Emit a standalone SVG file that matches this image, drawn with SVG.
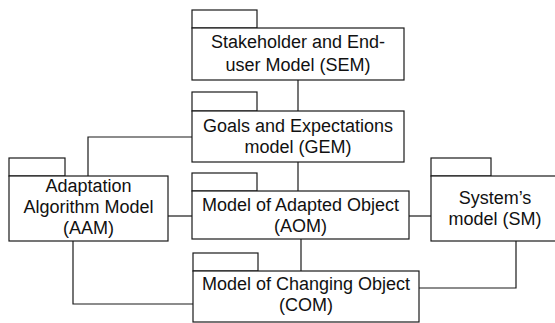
<svg xmlns="http://www.w3.org/2000/svg" width="555" height="323" viewBox="0 0 555 323">
<style>
.b{fill:#fff;stroke:#1a1a1a;stroke-width:1.2}
.c{fill:none;stroke:#1a1a1a;stroke-width:1.2}
text{font-family:"Liberation Sans",Arial,sans-serif;font-size:18px;fill:#111;text-anchor:middle}
</style>
<rect width="555" height="323" fill="#fff"/>
<g id="connectors">
<line class="c" x1="298" y1="80" x2="298" y2="111"/>
<polyline class="c" points="192,137 88,137 88,176"/>
<line class="c" x1="298" y1="162" x2="298" y2="191"/>
<line class="c" x1="168" y1="216" x2="192" y2="216"/>
<line class="c" x1="409" y1="216" x2="431" y2="216"/>
<line class="c" x1="301" y1="239" x2="301" y2="271"/>
<polyline class="c" points="73,241 73,304 193,304"/>
<polyline class="c" points="516,241 516,288 419,288"/>
</g>
<g id="SEM">
<rect class="b" x="192" y="10" width="65" height="18"/>
<rect class="b" x="192" y="28" width="212" height="52"/>
<text x="298" y="48">Stakeholder and End-</text>
<text x="298" y="71">user Model (SEM)</text>
</g>
<g id="GEM">
<rect class="b" x="192" y="92" width="65" height="19"/>
<rect class="b" x="192" y="111" width="212" height="51"/>
<text x="298" y="132">Goals and Expectations</text>
<text x="298" y="153">model (GEM)</text>
</g>
<g id="AAM">
<rect class="b" x="9" y="158" width="56" height="18"/>
<rect class="b" x="9" y="176" width="159" height="65"/>
<text x="88.5" y="192">Adaptation</text>
<text x="88.5" y="213">Algorithm Model</text>
<text x="88.5" y="234">(AAM)</text>
</g>
<g id="AOM">
<rect class="b" x="192" y="173" width="65" height="18"/>
<rect class="b" x="192" y="191" width="217" height="48"/>
<text x="300.5" y="211">Model of Adapted Object</text>
<text x="300.5" y="232">(AOM)</text>
</g>
<g id="COM">
<rect class="b" x="193" y="253" width="65" height="18"/>
<rect class="b" x="193" y="271" width="226" height="51"/>
<text x="306" y="290">Model of Changing Object</text>
<text x="306" y="311">(COM)</text>
</g>
<g id="SM">
<rect class="b" x="431" y="158" width="60" height="18"/>
<rect class="b" x="431" y="176" width="130" height="65"/>
<text x="495" y="204">System’s</text>
<text x="495" y="225">model (SM)</text>
</g>
</svg>
